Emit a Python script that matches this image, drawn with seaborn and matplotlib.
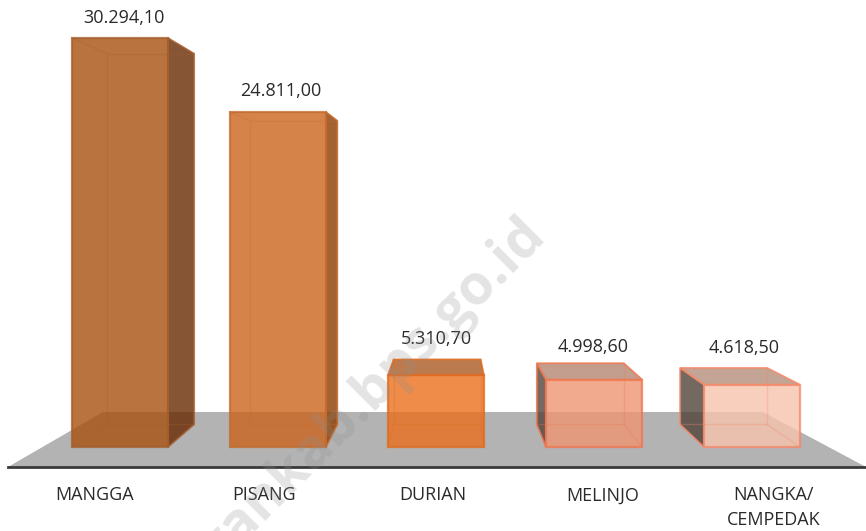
import numpy as np
import pandas as pd
import matplotlib
matplotlib.use("Agg")
import matplotlib.pyplot as plt
from matplotlib.patches import Polygon
from matplotlib.transforms import ScaledTranslation
import seaborn as sns

categories = ["MANGGA", "PISANG", "DURIAN", "MELINJO", "NANGKA/\nCEMPEDAK"]
values = [30294.10, 24811.00, 5310.70, 4998.60, 4618.50]
value_labels = ["30.294,10", "24.811,00", "5.310,70", "4.998,60", "4.618,50"]

front_colors = ["#a7500f", "#cc641d", "#ec6f1d", "#ee9572", "#f7c3ac"]
edge_colors = ["#a5602e", "#c46c30", "#de6c22", "#ee7850", "#f58a6a"]
right_colors = ["#682a01", "#8e3b00", "#d57a3c", "#f0ab92", "#f9d2c2"]
left_colors = ["#b9733f", "#d6834a", "#f08c4a", "#55433b", "#514339"]
top_colors = ["#b9733f", "#d6834a", "#ab5a22", "#b48672", "#b68d7a"]
label_dx = [-25, -14, -3, 9, 22]
value_dx = [4, 3, 0, -1, -8]
value_gap = [20, 21, 36, 33, 37]

W, H = 866, 531
sns.set_theme(style="white")
plt.rcParams["font.family"] = ["Open Sans", "DejaVu Sans"]

fig = plt.figure(figsize=(W / 100, H / 100), dpi=100)
ax_left, ax_right, ax_bottom = 8, 866, 467
ax = fig.add_axes([ax_left / W, 1 - ax_bottom / H, (ax_right - ax_left) / W, ax_bottom / H])

df = pd.DataFrame({"kategori": categories, "nilai": values})
sns.barplot(data=df, x="kategori", y="nilai", hue="kategori", palette=front_colors,
            width=96 / 158, legend=False, ax=ax, alpha=0.8, zorder=5, saturation=1,
            linewidth=1.6)
for bar, ec in zip(ax.patches, edge_colors):
    bar.set_edgecolor(ec)

# scales: one category = 158 px, one unit = 0.0135 px
px_per_cat, px_per_val = 158, 0.0135
ax.set_xlim((ax_left - 120) / px_per_cat, (ax_right - 120) / px_per_cat)
ax.set_ylim((447 - ax_bottom) / px_per_val, 447 / px_per_val)

def px(x, y):
    return ax.transData.inverted().transform((x, H - y))

# floor
floor = [px(8, 467), px(103, 412), px(763, 412), px(866, 467)]
ax.add_patch(Polygon(floor, closed=True, fc="#b3b3b3", ec="none", zorder=1))

# depth: every corner recedes towards one vanishing point
t = 0.0934
vx, vy = px(447, 205)

def back(p):
    return (p[0] + (vx - p[0]) * t, p[1] + (vy - p[1]) * t)

half = 96 / 158 / 2
for i, v in enumerate(values):
    bl, br, tl, tr = (i - half, 0), (i + half, 0), (i - half, v), (i + half, v)
    quads = [
        ([br, tr, back(tr), back(br)], right_colors[i]),
        ([bl, tl, back(tl), back(bl)], left_colors[i]),
        ([tl, tr, back(tr), back(tl)], top_colors[i]),
    ]
    alphas = [0.0, 0.8, 0.8] if i >= 3 else [0.8, 0.0, 0.0] if i < 2 else [0.0, 0.0, 0.8]
    for (q, c), a in zip(quads, alphas):
        ax.add_patch(Polygon(q, closed=True, fc=c, ec="none", alpha=a, zorder=3))
        if a > 0:
            ax.add_patch(Polygon(q, closed=True, fc="none", ec=edge_colors[i], lw=1.2,
                                 alpha=0.8, zorder=4))
    ax.add_patch(Polygon([back(bl), back(br), back(tr), back(tl)], closed=True, fc="none",
                         ec=edge_colors[i], lw=1.0, alpha=0.3, zorder=6))
    for a_, b_ in [(bl, back(bl)), (br, back(br)), (tl, back(tl)), (tr, back(tr))]:
        ax.plot([a_[0], b_[0]], [a_[1], b_[1]], color=edge_colors[i], lw=1.0, alpha=0.3, zorder=6)
    ax.annotate(value_labels[i], xy=(i, v), xytext=(value_dx[i] * 0.72, value_gap[i] * 0.72),
                textcoords="offset points", ha="center", va="center", fontsize=13,
                color="#2a2a2a", zorder=8)

ax.set_xlabel("")
ax.set_ylabel("")
ax.set_yticks([])
ax.tick_params(axis="x", length=0, pad=14)
ax.set_xticks(range(len(categories)))
ax.set_xticklabels(categories, fontsize=13, color="#2a2a2a", linespacing=1.45, va="top")
for lab, dx in zip(ax.get_xticklabels(), label_dx):
    lab.set_transform(lab.get_transform() + ScaledTranslation(dx / 100, 0, fig.dpi_scale_trans))

for s in ["top", "left", "right"]:
    ax.spines[s].set_visible(False)
ax.spines["bottom"].set_color("#3a3a3a")
ax.spines["bottom"].set_linewidth(2)
ax.spines["bottom"].set_zorder(7)

# watermark of the source
fig.text(548 / W, 1 - 238 / H, "gankab.bps.go.id", rotation=45, ha="right", va="baseline",
         rotation_mode="anchor", fontsize=40, fontweight="bold", color="#8d8d8d", alpha=0.24,
         zorder=20)

fig.savefig("out.png", dpi=100)
